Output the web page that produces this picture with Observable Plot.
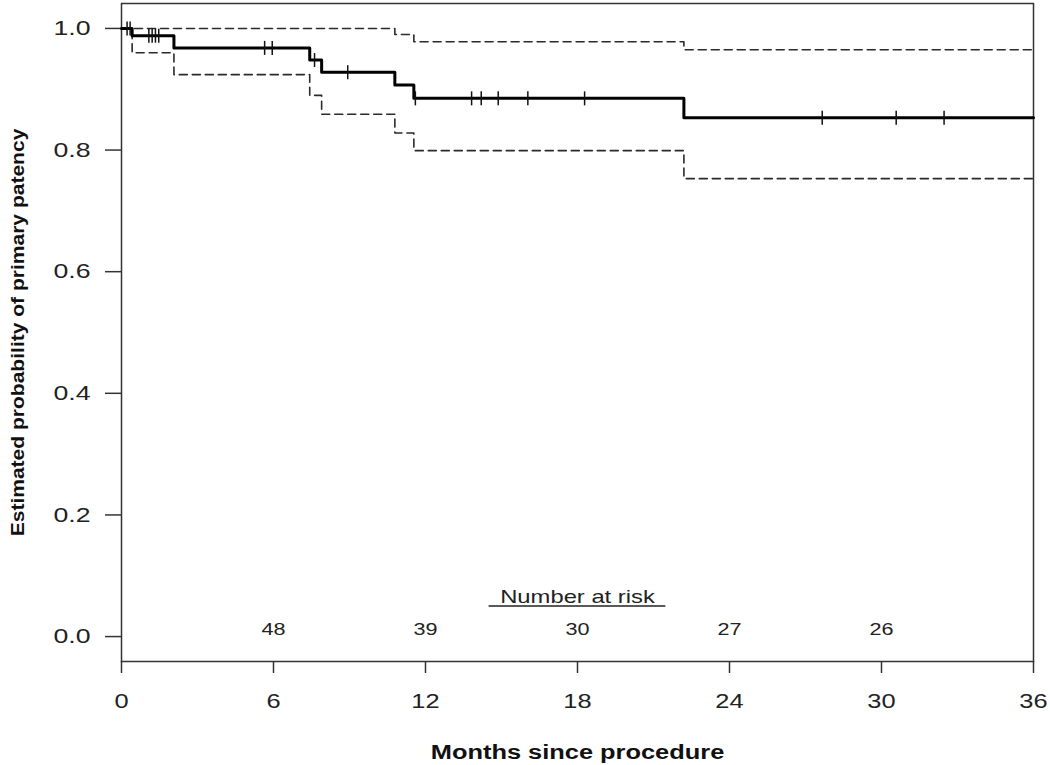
<!DOCTYPE html>
<html><head><meta charset="utf-8">
<script src="https://cdn.jsdelivr.net/npm/d3@7"></script>
<script src="https://cdn.jsdelivr.net/npm/@observablehq/plot@0.6"></script>
<style>
body{margin:0;background:#fff}
#chart svg{font-family:"Liberation Sans",Arial,sans-serif;background:#fff}
</style>
</head><body><div id="chart"></div>
<script>
// Kaplan-Meier step function (time in months) and 95% CI
const stepTimes = [0, 0.42, 2.07, 7.43, 7.90, 10.79, 11.54, 22.2, 36];
const survival  = [1.0, 0.988, 0.968, 0.948, 0.928, 0.907, 0.885, 0.853, 0.853];
const lowerCI   = [1.0, 0.960, 0.924, 0.890, 0.859, 0.828, 0.799, 0.753, 0.753];
const upperCI   = [1.0, 1.0, 1.0, 1.0, 1.0, 0.990, 0.978, 0.965, 0.965];
// censoring times
const censorTimes = [0.22, 0.34, 1.08, 1.21, 1.34, 1.47, 5.65, 5.95, 7.62, 8.93, 11.6,
                     13.82, 14.2, 14.87, 16.04, 18.28, 27.66, 30.58, 32.47];
// number at risk
const riskTimes  = [6, 12, 18, 24, 30];
const riskCounts = [48, 39, 30, 27, 26];
const xTicks = [0, 6, 12, 18, 24, 30, 36];
const yTicks = [0, 0.2, 0.4, 0.6, 0.8, 1.0];
const xLabel = "Months since procedure";
const yLabel = "Estimated probability of primary patency";
const riskTitle = "Number at risk";

const km = stepTimes.map((t, i) => ({t, s: survival[i], lo: lowerCI[i], hi: upperCI[i]}));
const survAt = t => survival[d3.bisectRight(stepTimes, t) - 1];
const censored = censorTimes.map(t => ({t, s: survAt(t)}));
const risk = riskTimes.map((t, i) => ({t, n: riskCounts[i]}));

const vbar = {draw(ctx, size) { const h = Math.sqrt(size / Math.PI); ctx.moveTo(0, -h); ctx.lineTo(0, h); }};
const ink = "#222";
const titleSize = 17.5, titleStretch = 1.36, titleDy = -59;
const titleX = d3.median(riskTimes);

// underline under the "Number at risk" title, sized from the measured title width
function titleUnderline(index, scales, values, dims) {
  const c = document.createElement("canvas").getContext("2d");
  c.font = `${titleSize}px "Liberation Sans", Arial, sans-serif`;
  const w = c.measureText(riskTitle).width * titleStretch + 22;
  const cx = scales.x(titleX);
  const y = dims.height - dims.marginBottom + titleDy + 4;
  const line = document.createElementNS("http://www.w3.org/2000/svg", "line");
  line.setAttribute("x1", cx - w / 2); line.setAttribute("x2", cx + w / 2);
  line.setAttribute("y1", y); line.setAttribute("y2", y);
  line.setAttribute("stroke", ink); line.setAttribute("stroke-width", 1.5);
  return line;
}

const chart = Plot.plot({
  width: 1050, height: 765,
  marginLeft: 121, marginRight: 17, marginTop: 3, marginBottom: 104,
  style: {fontFamily: "Liberation Sans, Arial, sans-serif", background: "#fff", color: ink},
  x: {domain: [0, 36]},
  y: {domain: [-0.041, 1.041]},
  marks: [
    Plot.frame({stroke: "#333", strokeWidth: 1.5}),
    Plot.axisX({ticks: xTicks, tickSize: 12, tickPadding: 20, fontSize: 20, label: null, stroke: "#333", strokeWidth: 1.5, fill: ink}),
    Plot.axisY({ticks: yTicks, tickFormat: d3.format(".1f"), tickSize: 16, tickPadding: 15, fontSize: 21, label: null, stroke: "#333", strokeWidth: 1.5, fill: ink}),
    Plot.line(km, {x: "t", y: "hi", curve: "step-after", stroke: "#2a2a2a", strokeWidth: 1.6, strokeDasharray: "8,5"}),
    Plot.line(km, {x: "t", y: "lo", curve: "step-after", stroke: "#2a2a2a", strokeWidth: 1.6, strokeDasharray: "8,5"}),
    Plot.line(km, {x: "t", y: "s", curve: "step-after", stroke: "#000", strokeWidth: 3}),
    Plot.dot(censored, {x: "t", y: "s", symbol: vbar, r: 7, stroke: "#111", strokeWidth: 1.5, fill: "none"}),
    Plot.text(risk, {x: "t", text: "n", frameAnchor: "bottom", dy: -27, lineAnchor: "bottom", fontSize: 17, fill: ink}),
    Plot.text([riskTitle], {x: () => titleX, text: d => d, frameAnchor: "bottom", dy: titleDy, lineAnchor: "bottom", fontSize: titleSize, fill: ink}),
    titleUnderline,
    Plot.text([xLabel], {text: d => d, frameAnchor: "bottom", dy: 97, lineAnchor: "bottom", fontSize: 20, fontWeight: "bold", fill: "#111"}),
    Plot.text([yLabel], {text: d => d, frameAnchor: "left", textAnchor: "middle", dx: -104, rotate: -90, lineAnchor: "middle", fontSize: 19, fontWeight: "bold", fill: "#111"})
  ]
});
document.getElementById("chart").appendChild(chart);

// the reference image is horizontally stretched; mimic by scaling glyphs
d3.select(chart).selectAll("text").each(function() {
  const s = this.textContent;
  const t = this.getAttribute("transform") || "";
  const sx = s === yLabel ? 1.107 : s === riskTitle ? titleStretch : 1.27;
  this.setAttribute("transform", t + ` scale(${sx},1)`);
});
</script></body></html>
